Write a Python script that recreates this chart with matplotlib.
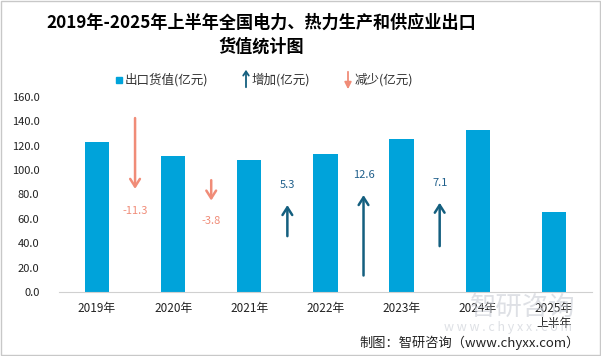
import matplotlib
matplotlib.use('Agg')
import matplotlib.pyplot as plt
from matplotlib.patches import Rectangle

plt.rcParams['font.family'] = ['Noto Sans CJK SC', 'DejaVu Sans']

years = ['2019年', '2020年', '2021年', '2022年', '2023年', '2024年', '2025年\n上半年']
export_value = [123.0, 111.7, 107.9, 113.2, 125.8, 132.9, 65.6]

# changes between consecutive years, drawn as arrows between bars
changes = [-11.3, -3.8, 5.3, 12.6, 7.1]
arrow_tail = [145.0, 94.0, 43.5, 11.2, 35.3]
arrow_head = [82.3, 72.7, 73.6, 81.8, 75.5]
label_y = [66.7, 58.5, 87.8, 96.0, 89.7]

bar_color = '#00A3DA'
up_color = '#145F7F'
down_color = '#F08C78'

fig = plt.figure(figsize=(6.01, 3.56), dpi=100)
ax = fig.add_axes([0.098, 0.18, 0.887, 0.5475])

x = list(range(len(years)))
ax.bar(x, export_value, width=0.32, color=bar_color, zorder=2)

for i, c in enumerate(changes):
    xm = i + 0.5
    col = up_color if c > 0 else down_color
    ax.annotate('', xy=(xm, arrow_head[i]), xytext=(xm, arrow_tail[i]),
                arrowprops=dict(arrowstyle='->,head_length=0.55,head_width=0.35',
                                color=col, lw=1.8), zorder=3)
    lab_col = '#1F5F8B' if c > 0 else down_color
    ax.text(xm, label_y[i], f'{c:.1f}', ha='center', va='center',
            fontsize=8, color=lab_col)

ax.set_xlim(-0.5, 6.5)
ax.set_ylim(0, 160)
ax.set_yticks(range(0, 161, 20))
ax.set_yticklabels([f'{v:.1f}' for v in range(0, 161, 20)])
ax.set_xticks(x)
ax.set_xticklabels(years)
ax.tick_params(axis='y', length=0, pad=14, labelsize=8, colors='#222222')
ax.tick_params(axis='x', length=0, pad=7, labelsize=8.5, colors='#222222')
for s in ['top', 'right', 'left']:
    ax.spines[s].set_visible(False)
ax.spines['bottom'].set_color('#d0d0d0')

# title
fig.text(0.435, 0.935, '2019年-2025年上半年全国电力、热力生产和供应业出口',
         ha='center', va='center', fontsize=12.3, fontweight='bold')
fig.text(0.435, 0.868, '货值统计图', ha='center', va='center',
         fontsize=12.3, fontweight='bold')

# legend
ly = 1 - 80 / 356
fig.patches.append(Rectangle((116 / 601, 1 - 83 / 356), 6 / 601, 6 / 356,
                             transform=fig.transFigure, color=bar_color))
fig.text(125 / 601, ly, '出口货值(亿元)', ha='left', va='center', fontsize=9, color='#333333')
ax.annotate('', xy=(246 / 601, 1 - 67 / 356), xytext=(246 / 601, 1 - 90 / 356),
            xycoords='figure fraction',
            arrowprops=dict(arrowstyle='->,head_length=0.3,head_width=0.2',
                            color=up_color, lw=1.3))
fig.text(252 / 601, ly, '增加(亿元)', ha='left', va='center', fontsize=9, color='#333333')
ax.annotate('', xy=(348 / 601, 1 - 92 / 356), xytext=(348 / 601, 1 - 69 / 356),
            xycoords='figure fraction',
            arrowprops=dict(arrowstyle='-|>,head_length=0.4,head_width=0.2',
                            color=down_color, lw=1.3))
fig.text(355 / 601, ly, '减少(亿元)', ha='left', va='center', fontsize=9, color='#333333')

# watermark
fig.text(0.87, 1 - 307 / 356, '智研咨询', ha='center', va='center',
         fontsize=19, color='#c8ccd4', alpha=0.6, zorder=0)
fig.text(0.845, 1 - 328 / 356, 'w w w . c h y x x . c o m', ha='center', va='center',
         fontsize=9, color='#c8ccd4', alpha=0.6, zorder=0)

# source
fig.text(0.965, 1 - 343 / 356, '制图：智研咨询（www.chyxx.com）', ha='right',
         va='center', fontsize=9.5, color='#222222')

# outer border
fig.patches.append(Rectangle((0.001, 0.002), 0.997, 0.995, transform=fig.transFigure,
                             fill=False, edgecolor='#c8c8c8', lw=1))

fig.savefig('out.png', dpi=100)
